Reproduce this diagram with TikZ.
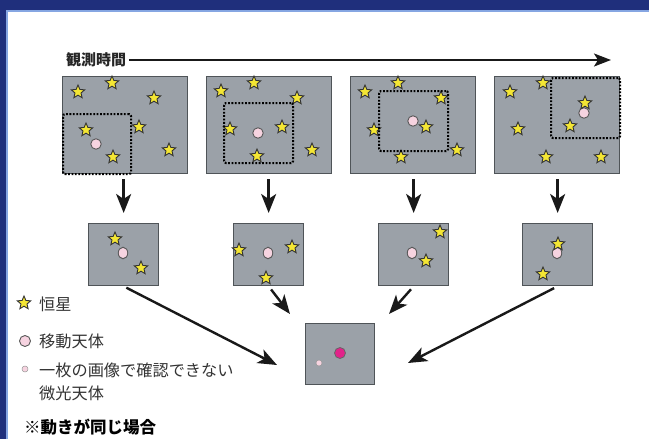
\documentclass[tikz,border=0pt]{standalone}
\usepackage{fontspec}
\newfontfamily\jp{Noto Sans CJK JP}
\usetikzlibrary{shapes.geometric,arrows.meta}
\definecolor{bandblue}{HTML}{1F2F7C}
\definecolor{lineblue}{HTML}{86A6E2}
\definecolor{boxgray}{HTML}{9BA1A8}
\definecolor{boxedge}{HTML}{4F5458}
\definecolor{staryellow}{HTML}{F4E634}
\definecolor{pinkc}{HTML}{F6D3E0}
\definecolor{magentac}{HTML}{E2238A}
\definecolor{txt}{HTML}{333333}
\begin{document}
\begin{tikzpicture}[x=1pt,y=-1pt,
  bigbox/.style={draw=boxedge, fill=boxgray, line width=1.3pt, minimum width=125pt, minimum height=97pt, inner sep=0pt, anchor=north west},
  smallbox/.style={draw=boxedge, fill=boxgray, line width=1.3pt, minimum width=70pt, minimum height=62pt, inner sep=0pt, anchor=north west},
  dotbox/.style={draw=black, line width=2.1pt, dash pattern=on 1.8pt off 1.6pt, rounded corners=2pt, minimum width=69pt, minimum height=60pt, inner sep=0pt, anchor=north west},
  starmark/.style={star, star points=5, star point ratio=2.2, minimum size=14pt, inner sep=0pt, fill=staryellow, draw=black!80, line width=0.9pt},
  movobj/.style={circle, minimum size=10.5pt, inner sep=0pt, fill=pinkc, draw=black!65, line width=0.9pt},
  movobjv/.style={ellipse, minimum width=9.5pt, minimum height=11.5pt, inner sep=0pt, fill=pinkc, draw=black!65, line width=0.9pt},
  faint/.style={circle, minimum size=6pt, inner sep=0pt, fill=pinkc, draw=black!40, line width=0.5pt},
  conn/.style={draw=black!90, line width=2.4pt, -{Stealth[length=19pt,width=15pt,inset=5pt]}},
  lbl/.style={font=\jp\fontsize{16.2}{18}\selectfont, text=txt, inner sep=0pt, anchor=west}
]
\useasboundingbox (0,0) rectangle (649,439);
% background and frame
\fill[white] (0,0) rectangle (649,439);
\fill[bandblue] (0,0) rectangle (649,10);
\fill[bandblue] (0,0) rectangle (6,439);
\fill[lineblue] (6,10) rectangle (649,12);
\fill[lineblue] (6,10) rectangle (8,439);

% time axis
\node[lbl, font=\jp\bfseries\fontsize{15}{17}\selectfont, text=black!85] (tl) at (66,60) {観測時間};
\coordinate (tend) at (611,60);
\draw[draw=black!90, line width=2pt, -{Stealth[length=17pt,width=13pt,inset=4pt]}] ([xshift=3pt]tl.east) -- (tend);

% top boxes
\node[bigbox] (t1) at (62,76) {};
\node[bigbox] (t2) at (206,76) {};
\node[bigbox] (t3) at (350,76) {};
\node[bigbox] (t4) at (494,76) {};

% circles in top boxes
\node[movobj] (c1) at (96,144) {};
\node[movobj] (c2) at (258,133) {};
\node[movobj] (c3) at (413,121) {};
\node[movobj] (c4) at (584,113) {};

% stars in top boxes
\foreach \p [count=\k] in {{78,92},{112,83},{154,98},{86,130},{139,127},{113,157},{169,150},
  {221,91},{254,83},{297,98},{230,129},{282,127},{257,156},{312,150},
  {365,92},{398,83},{441,98},{374,130},{426,127},{401,157},{457,150},
  {510,92},{543,83},{585,103},{518,129},{570,126},{546,157},{601,157}}
  \node[starmark] (st\k) at (\p) {};

% dotted frames
\node[dotbox, minimum width=68pt] (d1) at (62,113) {};
\node[dotbox] (d2) at (223,102) {};
\node[dotbox] (d3) at (378,90) {};
\node[dotbox] (d4) at (550,77) {};

% middle boxes
\node[smallbox] (m1) at (88,223) {};
\node[smallbox] (m2) at (233,223) {};
\node[smallbox] (m3) at (378,223) {};
\node[smallbox] (m4) at (522,223) {};

\node[movobjv] (mc1) at (123,253) {};
\node[movobjv] (mc2) at (268,253) {};
\node[movobjv] (mc3) at (412,253) {};
\node[movobjv] (mc4) at (557,253) {};

\foreach \p [count=\k] in {{115,239},{141,268},{239,250},{292,247},{266,278},{440,232},{426,261},{558,244},{543,274}}
  \node[starmark] (ms\k) at (\p) {};

% bottom box
\node[smallbox, minimum width=69pt, minimum height=61pt] (b) at (305,323) {};
\node[circle, minimum size=11pt, inner sep=0pt, fill=magentac, draw=black!60, line width=0.8pt] (bm) at (340,353) {};
\node[faint] (bf) at (319,363) {};

% vertical arrows
\draw[conn, shorten <=5pt, shorten >=10pt] (t1.south -| m1.north) -- (m1.north);
\draw[conn, shorten <=5pt, shorten >=10pt] (t2.south -| m2.north) -- (m2.north);
\draw[conn, shorten <=5pt, shorten >=10pt] (t3.south -| m3.north) -- (m3.north);
\draw[conn, shorten <=5pt, shorten >=10pt] (t4.south -| m4.north) -- (m4.north);

% converging arrows
\coordinate (eA) at (277,365);
\coordinate (eB) at (290,314);
\coordinate (eC) at (389,314);
\coordinate (eD) at (408,363);
\draw[conn, shorten <=3pt] (m1.south) -- (eA);
\draw[conn, shorten <=4pt] (m2.south) -- (eB);
\draw[conn, shorten <=4pt] (m3.south) -- (eC);
\draw[conn, shorten <=4pt] (m4.south) -- (eD);

% legend
\node[starmark] (ls) at (24,303) {};
\node[lbl] (l1) at (39,304) {恒星};
\node[movobj, minimum size=11pt] (lc) at (25,341) {};
\node[lbl] (l2) at (39,341) {移動天体};
\node[faint] (lf) at (25,369) {};
\node[lbl] (l3) at (39,370) {一枚の画像で確認できない};
\node[lbl] (l4) at (39,393) {微光天体};
\node[lbl, font=\jp\bfseries\fontsize{16.5}{18}\selectfont, text=black] (l5) at (24,427) {※動きが同じ場合};
\end{tikzpicture}
\end{document}
